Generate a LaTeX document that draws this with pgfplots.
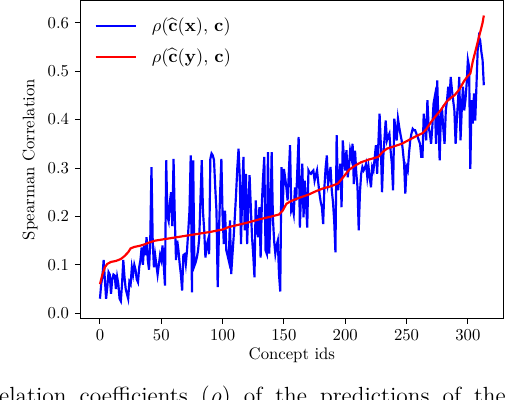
\documentclass[border=0pt]{standalone}
\usepackage{amsmath}
\usepackage{pgfplots}
\pgfplotsset{compat=1.18}
\usetikzlibrary{calc}

\begin{document}
\begin{tikzpicture}
\begin{axis}[
  name=ax,
  scale only axis,
  width=253pt, height=190pt,
  xmin=-15.65, xmax=328.65,
  ymin=-0.01, ymax=0.645,
  xtick={0,50,...,300},
  ytick={0,0.1,0.2,0.3,0.4,0.5,0.6},
  yticklabel style={/pgf/number format/fixed,/pgf/number format/precision=1,/pgf/number format/fixed zerofill},
  tick align=outside, tick pos=left,
  major tick length=3.5pt,
  axis line style={line width=0.6pt},
  every tick/.style={black, line width=0.6pt},
  xlabel={Concept ids},
  ylabel={Spearman Correlation},
  xlabel style={at={(axis description cs:0.5,-0.116)}, anchor=center},
  ylabel style={at={(axis description cs:-0.120,0.5)}, anchor=center},
  legend cell align=left,
  legend style={draw=none, fill=none, at={(axis description cs:0.02,0.968)}, anchor=north west,
    row sep=4.5pt, font=\fontsize{10.8}{13}\selectfont},
  legend image code/.code={\draw[#1] (0pt,0pt) -- (24pt,0pt); \path (31pt,0pt);},
]
\addplot[blue, line width=1.3pt] coordinates {
(0,0.030) (1,0.060) (2,0.075) (3,0.110) (4,0.070) (5,0.030) (6,0.055) (7,0.085) (8,0.080) (9,0.040)
(10,0.070) (11,0.080) (12,0.078) (13,0.050) (14,0.075) (15,0.060) (16,0.030) (17,0.025) (18,0.060) (19,0.110)
(20,0.075) (21,0.050) (22,0.040) (23,0.030) (24,0.065) (25,0.060) (26,0.095) (27,0.080) (28,0.100) (29,0.090)
(30,0.070) (31,0.064) (32,0.095) (33,0.110) (34,0.136) (35,0.100) (36,0.140) (37,0.120) (38,0.157) (39,0.110)
(40,0.090) (41,0.150) (42,0.302) (43,0.150) (44,0.095) (45,0.120) (46,0.100) (47,0.080) (48,0.100) (49,0.120)
(50,0.110) (51,0.140) (52,0.100) (53,0.057) (54,0.316) (55,0.200) (56,0.190) (57,0.230) (58,0.250) (59,0.180)
(60,0.319) (61,0.200) (62,0.110) (63,0.150) (64,0.130) (65,0.102) (66,0.080) (67,0.047) (68,0.120) (69,0.122)
(70,0.102) (71,0.130) (72,0.170) (73,0.212) (74,0.326) (75,0.043) (76,0.316) (77,0.098) (78,0.105) (79,0.115)
(80,0.130) (81,0.157) (82,0.240) (83,0.316) (84,0.210) (85,0.171) (86,0.115) (87,0.140) (88,0.150) (89,0.122)
(90,0.319) (91,0.330) (92,0.326) (93,0.316) (94,0.260) (95,0.212) (96,0.054) (97,0.164) (98,0.250) (99,0.319)
(100,0.200) (101,0.143) (102,0.212) (103,0.130) (104,0.120) (105,0.109) (106,0.192) (107,0.081) (108,0.120) (109,0.157)
(110,0.200) (111,0.247) (112,0.300) (113,0.340) (114,0.281) (115,0.143) (116,0.250) (117,0.323) (118,0.171) (119,0.288)
(120,0.143) (121,0.220) (122,0.285) (123,0.219) (124,0.157) (125,0.120) (126,0.074) (127,0.233) (128,0.180) (129,0.157)
(130,0.219) (131,0.115) (132,0.226) (133,0.280) (134,0.323) (135,0.130) (136,0.123) (137,0.333) (138,0.123) (139,0.200)
(140,0.333) (141,0.198) (142,0.150) (143,0.123) (144,0.140) (145,0.150) (146,0.080) (147,0.045) (148,0.302) (149,0.212)
(150,0.298) (151,0.280) (152,0.260) (153,0.233) (154,0.290) (155,0.347) (156,0.212) (157,0.220) (158,0.205) (159,0.260)
(160,0.233) (161,0.300) (162,0.364) (163,0.177) (164,0.250) (165,0.309) (166,0.198) (167,0.274) (168,0.230) (169,0.177)
(170,0.295) (171,0.290) (172,0.288) (173,0.292) (174,0.295) (175,0.274) (176,0.285) (177,0.295) (178,0.270) (179,0.247)
(180,0.230) (181,0.219) (182,0.184) (183,0.260) (184,0.300) (185,0.326) (186,0.267) (187,0.280) (188,0.302) (189,0.254)
(190,0.230) (191,0.191) (192,0.126) (193,0.368) (194,0.254) (195,0.280) (196,0.309) (197,0.219) (198,0.357) (199,0.320)
(200,0.295) (201,0.337) (202,0.281) (203,0.300) (204,0.336) (205,0.322) (206,0.350) (207,0.267) (208,0.336) (209,0.290)
(210,0.260) (211,0.171) (212,0.250) (213,0.288) (214,0.302) (215,0.295) (216,0.300) (217,0.309) (218,0.281) (219,0.302)
(220,0.280) (221,0.260) (222,0.302) (223,0.295) (224,0.320) (225,0.347) (226,0.288) (227,0.350) (228,0.412) (229,0.350)
(230,0.250) (231,0.323) (232,0.360) (233,0.398) (234,0.357) (235,0.365) (236,0.371) (237,0.336) (238,0.309) (239,0.254)
(240,0.402) (241,0.380) (242,0.357) (243,0.402) (244,0.385) (245,0.370) (246,0.357) (247,0.336) (248,0.309) (249,0.247)
(250,0.302) (251,0.295) (252,0.330) (253,0.357) (254,0.371) (255,0.381) (256,0.378) (257,0.378) (258,0.371) (259,0.365)
(260,0.357) (261,0.350) (262,0.323) (263,0.323) (264,0.412) (265,0.385) (266,0.357) (267,0.440) (268,0.385) (269,0.371)
(270,0.350) (271,0.385) (272,0.433) (273,0.447) (274,0.350) (275,0.481) (276,0.392) (277,0.316) (278,0.412) (279,0.419)
(280,0.380) (281,0.350) (282,0.419) (283,0.440) (284,0.468) (285,0.440) (286,0.488) (287,0.461) (288,0.440) (289,0.419)
(290,0.350) (291,0.400) (292,0.440) (293,0.488) (294,0.357) (295,0.420) (296,0.468) (297,0.419) (298,0.440) (299,0.474)
(300,0.523) (301,0.509) (302,0.298) (303,0.440) (304,0.392) (305,0.454) (306,0.398) (307,0.470) (308,0.544) (309,0.571)
(310,0.564) (311,0.540) (312,0.523) (313,0.471)
};
\addlegendentry{$\rho(\widehat{\mathbf{c}}(\mathbf{x}),\,\mathbf{c})$}
\addplot[red, line width=1.3pt] coordinates {
(0,0.060) (2,0.080) (4,0.095) (6,0.102) (9,0.106) (13,0.108) (17,0.112) (20,0.118) (23,0.126) (25,0.134)
(28,0.137) (32,0.139) (36,0.142) (40,0.146) (45,0.150) (50,0.152) (60,0.156) (70,0.160) (80,0.164) (90,0.168)
(100,0.173) (105,0.178) (110,0.181) (120,0.187) (130,0.194) (140,0.200) (146,0.204) (149,0.212) (152,0.226) (156,0.232)
(162,0.238) (170,0.245) (176,0.252) (182,0.258) (188,0.262) (194,0.268) (198,0.280) (203,0.296) (208,0.305) (213,0.312)
(220,0.318) (227,0.323) (230,0.332) (234,0.340) (240,0.345) (246,0.350) (252,0.358) (258,0.366) (263,0.372) (266,0.380)
(270,0.395) (274,0.408) (278,0.420) (282,0.435) (285,0.443) (289,0.450) (293,0.462) (297,0.480) (300,0.490) (302,0.495)
(304,0.520) (306,0.540) (308,0.560) (310,0.580) (312,0.600) (313,0.615)
};
\addlegendentry{$\rho(\widehat{\mathbf{c}}(\mathbf{y}),\,\mathbf{c})$}
\end{axis}
% cut-off caption line under the figure
\node[anchor=base west, inner sep=0pt] at ($(ax.south west)+(-76.5pt,-51pt)$)
  {\fontsize{14}{16}\selectfont\makebox[331pt][s]{Correlation coefficients ($\rho$) of the predictions of the}};
\pgfresetboundingbox
\path[use as bounding box] ($(ax.south west)+(-48.4pt,-48.6pt)$) rectangle ($(ax.north east)+(1.8pt,0.6pt)$);
\end{tikzpicture}
\end{document}
